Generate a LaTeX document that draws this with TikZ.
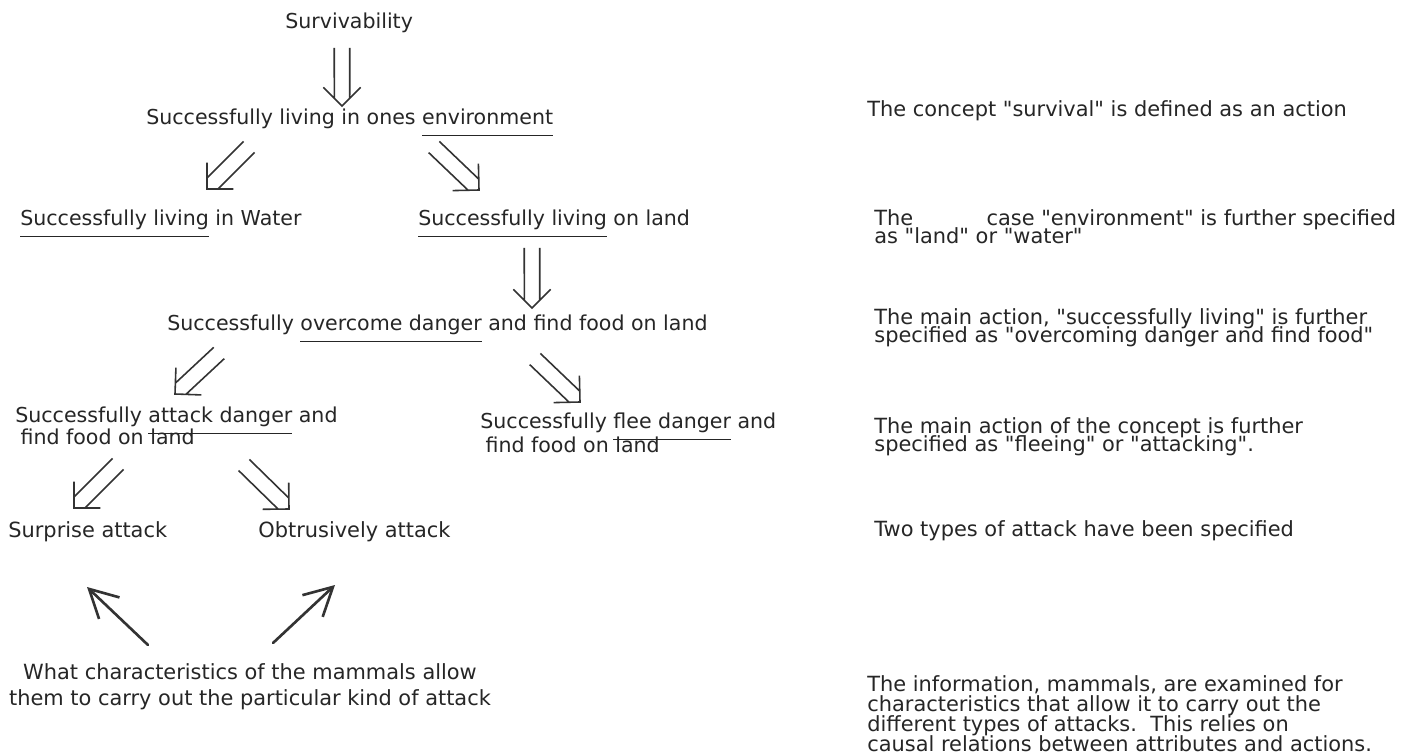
\documentclass[tikz,border=0pt]{standalone}
\usepackage{fontspec}
\newfontfamily\plate{DejaVu Sans}
\usetikzlibrary{positioning, arrows.meta, calc}

% rule a little below the descenders
\newcommand{\undl}[1]{\setbox0=\hbox{#1}\rlap{\rule[-6.5pt]{\wd0}{0.9pt}}\box0\relax}
% tight typewriter line pitch
\setlength{\lineskiplimit}{-20pt}

\begin{document}
\begin{tikzpicture}[
  x=0.02cm, y=-0.02cm,
  every node/.style={font=\plate\fontsize{11.9}{10.5}\selectfont, inner sep=0pt, text=black!85},
  pitch/.style = {font=\plate\fontsize{11.9}{#1}\selectfont},
  tree/.style  = {font=\plate\fontsize{11.7}{#1}\selectfont},
  lbl/.style   = {anchor=base west},
  blk/.style   = {anchor=north west, align=left},
  dbl/.style   = {draw=black!80, line width=0.9pt, to path={
      ($(\tikztostart)!4.4pt!90:(\tikztotarget)$) -- ($(\tikztotarget)!6.2pt!-45:(\tikztostart)$)
      ($(\tikztostart)!4.4pt!-90:(\tikztotarget)$) -- ($(\tikztotarget)!6.2pt!45:(\tikztostart)$)
      ($(\tikztotarget)!15pt!45:(\tikztostart)$) -- (\tikztotarget) -- ($(\tikztotarget)!15pt!-45:(\tikztostart)$)}},
  cause/.style = {-{Straight Barb[angle=56:18pt]}, draw=black!80, line width=1.5pt, line cap=round},
]
  \fill[white] (0,0) rectangle (1416,756);
  \useasboundingbox (0,0) rectangle (1416,756);

  % concept tree on the left
  \node[lbl, tree=12pt] (surv)  at (285,29)  {Survivability};
  \node[lbl, tree=12pt] (env)   at (146,125) {Successfully living in ones \undl{environment}};
  \node[lbl, tree=12pt] (water) at (20,226)  {\undl{Successfully living} in Water};
  \node[lbl, tree=12pt] (land)  at (418,226) {\undl{Successfully living} on land};
  \node[lbl, tree=12pt] (over)  at (167,331) {Successfully \undl{overcome danger} and find food on land};
  \node[blk, tree=12.5pt] (attack) at (15,407)  {Successfully \undl{attack danger} and\\\hspace*{3pt}find food on land};
  \node[blk, tree=13.5pt] (flee)   at (480,413) {Successfully \undl{flee danger} and\\\hspace*{3pt}find food on land};
  \node[lbl] (surp)  at (8,538)   {Surprise attack};
  \node[lbl] (obtr)  at (258,538) {Obtrusively attack};
  \node[anchor=north, align=center, pitch=14.8pt] (quest) at (250,663)
    {What characteristics of the mammals allow\\them to carry out the particular kind of attack};

  \draw[dbl] ($(surv.base west)+(57,19)$)   to ($(env.base west)+(196,-19)$);
  \draw[dbl] ($(env.base west)+(103,22)$)   to ($(water.base west)+(187,-37)$);
  \draw[dbl] ($(env.base west)+(288,22)$)   to ($(land.base west)+(61,-36)$);
  \draw[dbl] ($(land.base west)+(114,22)$)  to ($(over.base west)+(365,-23)$);
  \draw[dbl] ($(over.base west)+(52,22)$)   to ($(attack.north west)+(160,-13)$);
  \draw[dbl] ($(over.base west)+(368,28)$)  to ($(flee.north west)+(100,-11)$);
  \draw[dbl] ($(attack.north west)+(103,57)$) to ($(surp.base west)+(66,-30)$);
  \draw[dbl] ($(attack.north west)+(229,58)$) to ($(obtr.base west)+(31,-29)$);

  \draw[cause] ($(quest.north)+(-102,-18)$) -- ($(surp.base west)+(79,49)$);
  \draw[cause] ($(quest.north)+(23,-20)$)   -- ($(obtr.base west)+(77,47)$);

  % notes on the right
  \node[lbl] (n1) at (867,117) {The concept "survival" is defined as an action};
  \node[blk] (n2) at (874,209) {The\hspace{38pt} case "environment" is further specified\\as "land" or "water"};
  \node[blk] (n3) at (874,308) {The main action, "successfully living" is further\\specified as "overcoming danger and find food"};
  \node[blk] (n4) at (874,417) {The main action of the concept is further\\specified as "fleeing" or "attacking".};
  \node[lbl] (n5) at (874,536) {Two types of attack have been specified};
  \node[blk, pitch=11.4pt] (n6) at (867,675) {The information, mammals, are examined for\\characteristics that allow it to carry out the\\different types of attacks.\ \ This relies on\\causal relations between attributes and actions.};
\end{tikzpicture}
\end{document}
